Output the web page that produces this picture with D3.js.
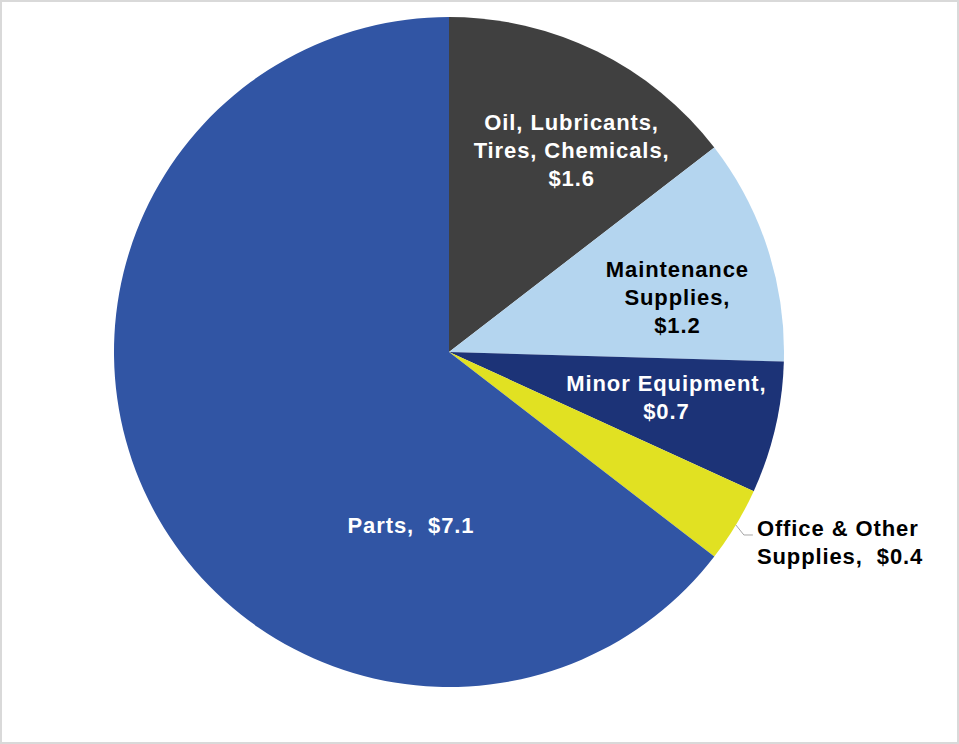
<!DOCTYPE html>
<html>
<head>
<meta charset="utf-8">
<script src="https://cdn.jsdelivr.net/npm/d3@7"></script>
<style>
  html, body { margin: 0; padding: 0; background: #fff; }
  svg { display: block; }
</style>
</head>
<body>
<svg id="chart" width="959" height="744"></svg>
<script>
// Spending by category ($ millions)
const categories = ["Oil, Lubricants, Tires, Chemicals", "Maintenance Supplies", "Minor Equipment", "Office & Other Supplies", "Parts"];
const values = [1.6, 1.2, 0.7, 0.4, 7.1];
const colors = ["#404040", "#b4d5ef", "#1c3377", "#e1e122", "#3155a4"];
const labelLines = [
  ["Oil, Lubricants,", "Tires, Chemicals,", "$1.6"],
  ["Maintenance", "Supplies,", "$1.2"],
  ["Minor Equipment,", "$0.7"],
  ["Office & Other", "Supplies,  $0.4"],
  ["Parts,  $7.1"]
];
const labelColors = ["#ffffff", "#000000", "#ffffff", "#000000", "#ffffff"];

const svg = d3.select("#chart");
const W = 959, H = 744;

// outer frame
svg.append("rect")
  .attr("x", 1).attr("y", 1).attr("width", W - 2).attr("height", H - 2)
  .attr("fill", "#fff").attr("stroke", "#d9d9d9").attr("stroke-width", 2);

const cx = 449, cy = 352, R = 335;
const g = svg.append("g").attr("transform", `translate(${cx},${cy})`);

const data = categories.map((c, i) => ({ name: c, value: values[i], color: colors[i], lines: labelLines[i], tc: labelColors[i] }));

const pie = d3.pie().value(d => d.value).sort(null).startAngle(0).endAngle(2 * Math.PI);
const arcs = pie(data);
const arc = d3.arc().innerRadius(0).outerRadius(R);

g.selectAll("path.slice").data(arcs).enter().append("path")
  .attr("class", "slice")
  .attr("d", arc)
  .attr("fill", d => d.data.color);

// label anchors (polar: radius, angle in degrees clockwise from 12 o'clock)
const labelPolar = [
  { r: 236, a: 31.3 },
  { r: 235, a: 76.4 },
  { r: 222, a: 101.7 },
  null,
  { r: 177, a: 192.4 }
];
const lineH = 28;
const fontSize = 22;

arcs.forEach((d, i) => {
  const lines = d.data.lines;
  let x, y, anchor = "middle";
  if (labelPolar[i]) {
    const p = labelPolar[i];
    const rad = p.a * Math.PI / 180;
    x = p.r * Math.sin(rad);
    y = -p.r * Math.cos(rad);
  } else {
    // outside label with a leader line
    const mid = (d.startAngle + d.endAngle) / 2;
    const px = R * Math.sin(mid), py = -R * Math.cos(mid);
    const ex = px + 8, ey = py + 10;
    g.append("polyline")
      .attr("points", [[px, py], [ex, ey], [ex + 9, ey]].map(p => p.join(",")).join(" "))
      .attr("fill", "none").attr("stroke", "#a6a6a6").attr("stroke-width", 1);
    x = ex + 13;
    y = ey + 7;
    anchor = "start";
  }
  const t = g.append("text")
    .attr("text-anchor", anchor)
    .attr("font-family", "'Liberation Sans', Arial, sans-serif")
    .attr("font-weight", "bold")
    .attr("font-size", fontSize)
    .attr("letter-spacing", 0.9)
    .attr("fill", d.data.tc)
    .style("white-space", "pre");
  const n = lines.length;
  lines.forEach((ln, k) => {
    t.append("tspan")
      .attr("x", x)
      .attr("y", y + (k - (n - 1) / 2) * lineH + fontSize * 0.36)
      .text(ln);
  });
});
</script>
</body>
</html>
